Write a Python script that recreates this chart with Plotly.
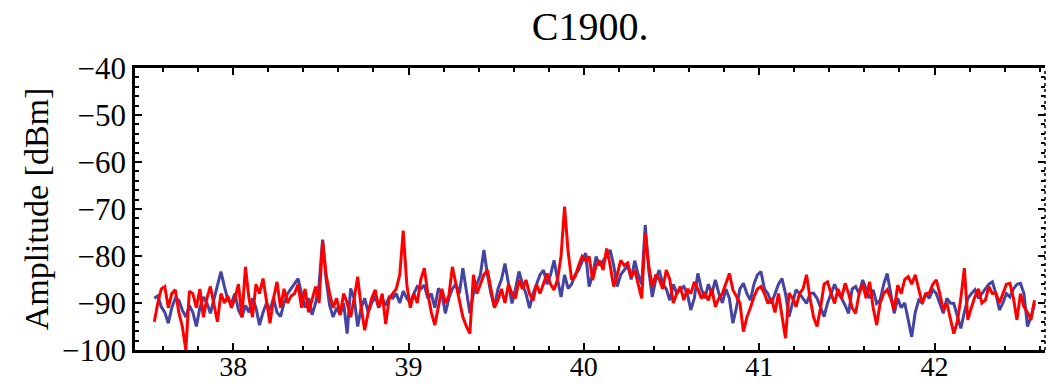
import plotly.graph_objects as go

# Frequency grid (GHz): first sample and spacing
freq_start = 37.55
freq_step = 0.02

red_dbm = [
    -94, -90, -87, -86.5, -91, -88, -87.2, -92, -95, -100,
    -87.5, -88, -91, -87, -93, -89, -86.5, -90, -94, -88,
    -90, -88.5, -91, -89, -86, -93, -82.3, -89, -93, -86,
    -88, -84.8, -90, -94.3, -89, -85.5, -91, -87, -90, -88.5,
    -88, -86, -91, -87, -92, -89, -86.5, -90, -76.8, -84,
    -88, -91, -89, -92.5, -88, -90, -93, -89, -84.4, -91,
    -95.8, -92, -89, -87.2, -91, -88, -94.5, -89, -88, -87,
    -84, -74.6, -86, -91, -88, -90, -85, -82.6, -88, -92,
    -94.7, -91, -87, -90, -88.5, -82.3, -86, -90, -93, -95,
    -96.5, -84, -88, -86, -84, -83, -87, -91, -89.4, -87,
    -90, -86, -88, -89, -85.1, -87, -85.1, -88, -89.5, -86,
    -88, -86, -83.7, -86, -87.2, -85, -80, -69.5, -79, -85,
    -84.4, -82, -80.1, -81, -80.1, -85.1, -82, -81, -83, -78.4,
    -82, -86.5, -84, -80.9, -82, -81.5, -84.4, -83, -86, -89,
    -75.2, -82, -86.5, -84, -85, -87, -83, -85, -90, -88,
    -86.5, -89.4, -87, -88, -85.5, -87, -89, -88, -89.4, -87,
    -90.8, -89, -88, -86, -83.7, -87.2, -88.5, -90, -96.1, -93,
    -91, -88.7, -87, -86.5, -88, -90.1, -89, -92, -88, -93,
    -97.5, -87.9, -89, -90.8, -88, -87, -84, -89, -93, -95,
    -91, -86, -85.5, -88, -90.1, -87, -89, -85.8, -88, -91,
    -92.2, -88, -86, -89, -85.5, -91, -94.7, -90, -88, -87.2,
    -89, -91.5, -86.2, -88, -85, -84.4, -86, -84, -87, -90.1,
    -88, -87.9, -86, -85.1, -88, -91.5, -90, -93, -96.5, -94,
    -89, -82.6, -93.6, -91, -88.7, -87, -90, -89.4, -86.5, -88,
    -87.9, -90, -88, -86, -85.8, -89, -93.6, -88, -90.8, -92,
    -93.6, -89.4,
]

blue_dbm = [
    -89, -88.5, -90.8, -92, -94.3, -91, -89, -89.4, -91.5, -93,
    -90.5, -92, -95, -91, -88.7, -90, -92.2, -89, -86, -83.3,
    -86.5, -89.4, -90, -88, -91.5, -93, -90.5, -92, -89, -91,
    -94.7, -92, -90, -91.5, -89, -92, -92.9, -90, -88, -87,
    -86, -84.8, -88, -91, -89, -92.5, -90, -86, -76.5, -85,
    -90.5, -93, -91, -92.5, -90, -96.5, -86.9, -89, -95, -91,
    -89, -92, -90, -88.5, -91, -89, -90.5, -88.7, -89, -88,
    -90, -87.5, -89, -90, -88, -86.5, -87, -86.2, -89, -88,
    -91, -86.9, -88, -92.2, -89, -87, -86, -88, -82.6, -87,
    -92.2, -88, -86, -84, -78.7, -84, -88, -90.8, -87, -85,
    -81.6, -86, -90.1, -87, -83.3, -86, -88, -91.1, -88, -86,
    -84, -83, -86, -84, -80.9, -85, -88.7, -84, -86.9, -86,
    -84, -83, -81, -79.4, -86.5, -84, -80.1, -82, -81, -80,
    -78.7, -82, -86.5, -84, -83, -82, -85, -81, -84, -86,
    -73.4, -83, -88.7, -85, -83, -86, -87, -89.4, -86, -88,
    -87, -86.5, -88, -91.5, -89, -83.7, -87, -89, -86, -88,
    -85.1, -88, -90, -87, -89, -94.3, -91, -87, -85.8, -88,
    -89.4, -86, -84, -83.3, -87, -88, -90.1, -88, -86, -84.8,
    -88, -92.9, -90, -87.2, -88, -89, -90.1, -88, -87.9, -89,
    -91, -92.9, -90, -88, -86, -87.9, -89, -90.5, -92.2, -87,
    -86.5, -88, -85.1, -87, -89, -87.2, -90.1, -89.4, -86, -83.7,
    -88, -92.2, -89, -91, -90, -94, -97.2, -92, -89.4, -90,
    -88, -89, -87.2, -88, -90, -92.2, -89, -90, -90.1, -93,
    -95.4, -92, -89, -88, -87.2, -89, -88, -87, -86, -85.5,
    -88, -91.5, -90, -88, -88.7, -87, -86, -85.8, -88, -95,
    -93, -90.1,
]

title_text = "C1900."
y_title = "Amplitude [dBm]"
x_ticks = [38, 39, 40, 41, 42]
y_ticks = [-100, -90, -80, -70, -60, -50, -40]

FONT = "Liberation Serif, Times New Roman, serif"

fig = go.Figure()
fig.add_trace(go.Scatter(
    x0=freq_start, dx=freq_step, y=blue_dbm, mode="lines",
    line=dict(color="#4444a2", width=3), showlegend=False,
))
fig.add_trace(go.Scatter(
    x0=freq_start, dx=freq_step, y=red_dbm, mode="lines",
    line=dict(color="#ff0000", width=3), showlegend=False,
))
# invisible trace to carry the right-hand tick axis
fig.add_trace(go.Scatter(
    x=[freq_start], y=[red_dbm[0]], yaxis="y2", mode="lines",
    line=dict(width=0), showlegend=False, hoverinfo="skip",
))

fig.update_layout(
    width=1049, height=387,
    margin=dict(l=135, r=4, t=68, b=37, autoexpand=False),
    paper_bgcolor="white", plot_bgcolor="white",
    font=dict(family=FONT, color="black", size=31),
    title=dict(text=title_text, x=0.5625, xanchor="center",
               y=1 - 26 / 387, yanchor="middle", yref="container",
               font=dict(family=FONT, size=40, color="black")),
    xaxis=dict(
        range=[37.44, 42.63], tickvals=x_ticks, ticktext=[str(v) for v in x_ticks],
        showgrid=False, zeroline=False, automargin=False,
        showline=True, linecolor="black", linewidth=2.5, mirror="ticks",
        ticks="inside", ticklen=7, tickwidth=2, tickcolor="black",
        minor=dict(dtick=0.2, ticks="inside", ticklen=4, tickwidth=1.5, tickcolor="black", showgrid=False),
        tickfont=dict(family=FONT, size=28), ticklabelstandoff=-10,
    ),
    yaxis=dict(
        range=[-100, -40], tickvals=y_ticks, ticktext=["\u2212" + str(abs(v)) for v in y_ticks],
        showgrid=False, zeroline=False, automargin=False,
        showline=True, linecolor="black", linewidth=2.5,
        ticks="inside", ticklen=7, tickwidth=2, tickcolor="black",
        minor=dict(dtick=2, ticks="inside", ticklen=4, tickwidth=1.5, tickcolor="black", showgrid=False),
        tickfont=dict(family=FONT, size=31),
        title=dict(text=y_title, font=dict(family=FONT, size=34), standoff=4),
    ),
    yaxis2=dict(
        overlaying="y", side="right", range=[-100, -40], tickvals=y_ticks,
        showticklabels=False, showgrid=False, zeroline=False, showline=False, automargin=False,
        ticks="inside", ticklen=7, tickwidth=2, tickcolor="black",
        minor=dict(dtick=2, ticks="inside", ticklen=4, tickwidth=1.5, tickcolor="black", showgrid=False),
    ),
)
fig.add_shape(type="line", xref="paper", yref="paper", x0=1, x1=1, y0=0, y1=1,
              line=dict(color="black", width=1.5, dash="dot"))

fig.write_html("out.html")
